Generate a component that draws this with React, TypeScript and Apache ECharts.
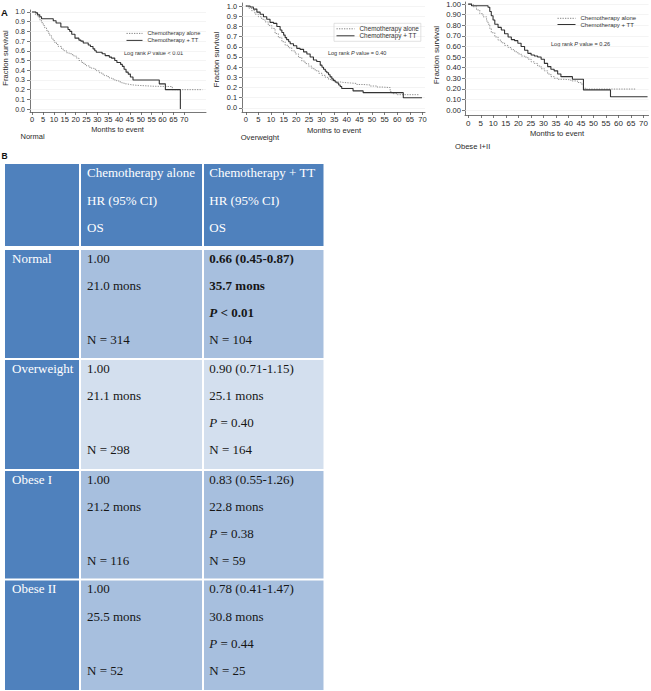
import React, { useEffect, useRef } from 'react';
import * as echarts from 'echarts';

// ---------------- data ----------------
const seriesNames = ['Chemotherapy alone', 'Chemotherapy + TT'];
const panelNames = ['Normal', 'Overweight', 'Obese I+II'];
const logRankP = ['< 0.01', '= 0.40', '= 0.26'];
const monthTicks = [0, 5, 10, 15, 20, 25, 30, 35, 40, 45, 50, 55, 60, 65, 70];
const survivalTicks = [0, 0.1, 0.2, 0.3, 0.4, 0.5, 0.6, 0.7, 0.8, 0.9, 1.0];

const normalAlone = [
  [0, 1], [1.5, 0.97], [2.8, 0.94], [3.6, 0.915], [4.3, 0.89], [5.1, 0.86], [5.8, 0.835], [6.6, 0.81],
  [7.4, 0.78], [8.1, 0.755], [8.9, 0.73], [9.6, 0.705], [10.4, 0.685], [11.2, 0.665], [12, 0.645],
  [13.5, 0.617], [14.7, 0.6], [15.8, 0.58], [17, 0.57], [18.1, 0.56], [19.2, 0.545], [20.4, 0.525],
  [21.5, 0.5], [22.7, 0.48], [23.8, 0.46], [25, 0.445], [26.2, 0.43], [27.3, 0.42], [28.5, 0.41],
  [29.6, 0.395], [30.8, 0.375], [32, 0.36], [33.2, 0.345], [34.3, 0.335], [35.5, 0.32], [36.6, 0.31],
  [37.8, 0.3], [38.9, 0.29], [40, 0.28], [41.2, 0.27], [42.3, 0.26], [43.5, 0.255], [44.6, 0.25],
  [45.8, 0.245], [48, 0.24], [52, 0.235], [56, 0.232], [64.5, 0.2], [78.3, 0.2],
];
const normalTT = [
  [0, 1], [1.7, 0.99], [2.5, 0.97], [3.5, 0.95], [4.3, 0.93], [9.7, 0.91], [11, 0.886], [13.2, 0.845],
  [16.5, 0.82], [17.3, 0.8], [18.2, 0.77], [19.7, 0.73], [21.5, 0.71], [22.4, 0.7], [23.5, 0.68],
  [25.8, 0.66], [26.8, 0.645], [28, 0.62], [28.8, 0.6], [29.5, 0.585], [32.2, 0.57], [33.6, 0.55],
  [35.5, 0.535], [36.5, 0.525], [38, 0.5], [39, 0.48], [40.7, 0.46], [41.5, 0.44], [42.3, 0.41],
  [43.2, 0.38], [44.2, 0.36], [45.2, 0.33], [46.4, 0.3], [58.5, 0.26], [61.3, 0.2], [68.2, 0],
];
const overweightAlone = [
  [0, 1], [1, 0.98], [2.3, 0.955], [3.6, 0.92], [5, 0.895], [6.3, 0.87], [7.6, 0.845], [8.9, 0.81],
  [10.3, 0.78], [11.6, 0.73], [12.9, 0.69], [14.3, 0.65], [15.6, 0.615], [16.9, 0.59], [18.2, 0.56],
  [19.6, 0.53], [20.9, 0.495], [22.2, 0.46], [23.5, 0.435], [24.9, 0.41], [26.2, 0.385], [27.5, 0.365],
  [28.9, 0.34], [30.2, 0.32], [31.5, 0.3], [32.8, 0.28], [34.2, 0.265], [35.5, 0.255], [37.4, 0.25],
  [38.7, 0.245], [41.4, 0.24], [44, 0.23], [46.6, 0.225], [49.3, 0.215], [52, 0.205], [54, 0.2],
  [57.2, 0.16], [58, 0.14], [60, 0.13], [68.4, 0.13],
];
const overweightTT = [
  [0, 1], [1.7, 0.99], [3, 0.97], [4.4, 0.94], [5.7, 0.92], [7, 0.895], [8.3, 0.87], [9.6, 0.84],
  [11, 0.83], [12.3, 0.8], [13.6, 0.765], [14.3, 0.74], [15, 0.715], [15.6, 0.69], [16.2, 0.67],
  [17, 0.65], [17.6, 0.63], [18.9, 0.61], [20.2, 0.585], [21.5, 0.575], [22.9, 0.55], [24.2, 0.53],
  [25.5, 0.5], [26.8, 0.47], [28.1, 0.455], [29.5, 0.42], [30.2, 0.4], [30.8, 0.38], [31.5, 0.36],
  [32.1, 0.345], [32.8, 0.325], [33.4, 0.305], [34.1, 0.285], [34.7, 0.27], [35.4, 0.255], [36.1, 0.245],
  [36.8, 0.225], [37.4, 0.21], [38, 0.19], [42.5, 0.167], [46.5, 0.15], [62.4, 0.1], [69.8, 0.1],
];
const obeseAlone = [
  [0, 1], [2, 0.975], [3.3, 0.945], [4.6, 0.91], [5.9, 0.88], [7.3, 0.84], [7.9, 0.81], [8.6, 0.77],
  [9.2, 0.73], [10.6, 0.69], [11.9, 0.66], [13.2, 0.635], [14.5, 0.61], [15.9, 0.59], [17.2, 0.57],
  [18.5, 0.55], [19.8, 0.53], [21.1, 0.51], [22.5, 0.5], [23.8, 0.48], [25.1, 0.455], [26.4, 0.44],
  [27.7, 0.415], [29.1, 0.39], [30.4, 0.37], [31.7, 0.34], [33, 0.315], [34.3, 0.3], [35.7, 0.29],
  [38.3, 0.285], [41, 0.275], [43.6, 0.26], [45, 0.245], [46, 0.205], [47, 0.198], [66.7, 0.198],
];
const obeseTT = [
  [0, 1], [1.3, 0.985], [7.9, 0.97], [8.6, 0.93], [9.2, 0.89], [9.9, 0.85], [10.6, 0.81], [11.9, 0.78],
  [13.2, 0.755], [14.5, 0.72], [15.9, 0.69], [17.2, 0.665], [18.5, 0.655], [19.8, 0.63], [21.1, 0.6],
  [22.5, 0.565], [23.8, 0.535], [25.1, 0.52], [26.4, 0.51], [27.7, 0.5], [29.1, 0.48], [30.4, 0.44],
  [31.7, 0.41], [33, 0.385], [34.3, 0.37], [35.7, 0.34], [37, 0.315], [41.6, 0.29], [46, 0.19],
  [56.8, 0.126], [71.6, 0.126],
];

const headerAlone = ['Chemotherapy alone', 'HR (95% CI)', 'OS'];
const headerTT = ['Chemotherapy + TT', 'HR (95% CI)', 'OS'];
const bmiGroups = ['Normal', 'Overweight', 'Obese I', 'Obese II'];
const aloneHR = ['1.00', '1.00', '1.00', '1.00'];
const aloneOS = ['21.0 mons', '21.1 mons', '21.2 mons', '25.5 mons'];
const aloneN = [314, 298, 116, 52];
const ttHR = ['0.66 (0.45-0.87)', '0.90 (0.71-1.15)', '0.83 (0.55-1.26)', '0.78 (0.41-1.47)'];
const ttOS = ['35.7 mons', '25.1 mons', '22.8 mons', '30.8 mons'];
const ttP = ['< 0.01', '= 0.40', '= 0.38', '= 0.44'];
const ttN = [104, 164, 59, 25];
const ttSignificant = [true, false, false, false];

// ---------------- layout / style ----------------
const SANS = '"Liberation Sans", Arial, Helvetica, sans-serif';
const SERIF = '"Liberation Serif", "Times New Roman", Times, serif';
const AXIS_COLOR = '#555';
const TEXT_COLOR = '#2a2a2a';
const ALONE_COLOR = '#858585';
const TT_COLOR = '#333333';

const PANEL_LAYOUT = [
  {
    left: 30, top: 10, width: 176, height: 102, xMin: -1, xMax: 80, yMin: -0.03, yMax: 1.02, yDec: 1,
    xFont: 7.5, yFont: 7, xMargin: 3, yMargin: 5,
    yName: { x: 5, y: 58, size: 7.6 }, xName: { x: 117.5, y: 129.5, size: 7.4 }, title: { x: 20.5, y: 136, size: 7.5 },
    legend: { left: 126, top: 30.4, w: 16, gap: 1, pad: [0, 0, 0, 0], font: 5.7, border: 0 },
    logRank: { x: 124, y: 53, size: 5.6 },
  },
  {
    left: 242, top: 3, width: 183, height: 109, xMin: -1.5, xMax: 71, yMin: -0.04, yMax: 1.03, yDec: 1,
    xFont: 7.6, yFont: 7.3, xMargin: 3, yMargin: 5,
    yName: { x: 216.7, y: 59.5, size: 7.6 }, xName: { x: 334, y: 130, size: 7.6 }, title: { x: 240.7, y: 137, size: 7.6 },
    legend: { left: 334, top: 23.3, w: 18, gap: 1, pad: [2.5, 2, 2.5, 2], font: 6.4, border: 0.6 },
    logRank: { x: 328, y: 53, size: 5.5 },
  },
  {
    left: 465, top: 2, width: 185, height: 113, xMin: -1.3, xMax: 72, yMin: -0.047, yMax: 1.02, yDec: 2,
    xFont: 8, yFont: 7.6, xMargin: 4, yMargin: 4,
    yName: { x: 436.7, y: 55, size: 8 }, xName: { x: 557, y: 133, size: 7.6 }, title: { x: 455, y: 146, size: 7.6 },
    legend: { left: 557, top: 15.3, w: 18, gap: 0.2, pad: [0, 0, 0, 0], font: 6, border: 0 },
    logRank: { x: 551, y: 44, size: 5.6 },
  },
];

const TABLE_COLS = [{ x: 5, w: 74 }, { x: 81, w: 121 }, { x: 204, w: 119.5 }];
const TABLE_HEADER = { y: 164, h: 82 };
const TABLE_ROWS = [{ y: 250, h: 108 }, { y: 360, h: 109 }, { y: 471, h: 107.5 }, { y: 580.5, h: 109.5 }];
const HEADER_LINE_OFFSETS = [8, 36, 63];
const BODY_LINE_OFFSETS = [8, 35.5, 62.5, 89.5];
const TEXT_INSET = [7, 6, 5.3];
const DARK_BLUE = '#4F81BD';
const ROW_FILLS = ['#A7BFDE', '#D3DFEE', '#A7BFDE', '#A7BFDE'];
const TABLE_FONT = 13;

function tableText(x: number, y: number, text: string, fill: string, weight = 'normal', rich?: any) {
  return {
    type: 'text', x, y, silent: true,
    style: {
      text, fill, fontFamily: SERIF, fontSize: TABLE_FONT, fontWeight: weight,
      align: 'left', verticalAlign: 'middle', rich,
    },
  };
}

function buildOption() {
  const curves = [[normalAlone, normalTT], [overweightAlone, overweightTT], [obeseAlone, obeseTT]];

  const grid = PANEL_LAYOUT.map((p) => ({ left: p.left, top: p.top, width: p.width, height: p.height }));

  const xAxis = PANEL_LAYOUT.map((p, i) => ({
    type: 'value', gridIndex: i, min: p.xMin, max: p.xMax,
    axisLine: { show: true, onZero: false, lineStyle: { color: AXIS_COLOR, width: 0.8 } },
    axisTick: { show: true, customValues: monthTicks, length: 3, lineStyle: { color: AXIS_COLOR, width: 0.8 } },
    axisLabel: { customValues: monthTicks, fontSize: p.xFont, color: TEXT_COLOR, margin: p.xMargin, fontFamily: SANS },
    splitLine: { show: false },
  }));

  const yAxis = PANEL_LAYOUT.map((p, i) => ({
    type: 'value', gridIndex: i, min: p.yMin, max: p.yMax,
    axisLine: { show: true, onZero: false, lineStyle: { color: AXIS_COLOR, width: 0.8 } },
    axisTick: { show: true, customValues: survivalTicks, length: 3, lineStyle: { color: AXIS_COLOR, width: 0.8 } },
    axisLabel: {
      customValues: survivalTicks, fontSize: p.yFont, color: TEXT_COLOR, margin: p.yMargin, fontFamily: SANS,
      formatter: (v: number) => v.toFixed(p.yDec),
    },
    splitLine: { show: false },
  }));

  const series: any[] = [];
  curves.forEach((pair, i) => {
    series.push({
      type: 'line', name: seriesNames[0], xAxisIndex: i, yAxisIndex: i, data: pair[0],
      step: 'end', symbol: 'none', showSymbol: false, silent: true, z: 2,
      itemStyle: { color: ALONE_COLOR },
      lineStyle: { color: ALONE_COLOR, width: 0.9, type: [1.3, 1.2] },
      markLine: {
        silent: true, symbol: 'none', z: 1, label: { show: false },
        lineStyle: { color: '#ececec', width: 0.6, type: 'solid' },
        emphasis: { disabled: true },
        data: survivalTicks.map((v) => ({ yAxis: v })),
      },
    });
    series.push({
      type: 'line', name: seriesNames[1], xAxisIndex: i, yAxisIndex: i, data: pair[1],
      step: 'end', symbol: 'none', showSymbol: false, silent: true, z: 3,
      itemStyle: { color: TT_COLOR },
      lineStyle: { color: TT_COLOR, width: 1.1, type: 'solid' },
    });
  });

  const legend = PANEL_LAYOUT.map((p) => ({
    orient: 'vertical', left: p.legend.left, top: p.legend.top,
    itemWidth: p.legend.w, itemHeight: 5, itemGap: p.legend.gap, padding: p.legend.pad,
    borderColor: '#cfcfcf', borderWidth: p.legend.border, selectedMode: false,
    itemStyle: { opacity: 0, borderWidth: 0 },
    lineStyle: { width: 1 },
    textStyle: { fontSize: p.legend.font, color: '#333', fontFamily: SANS },
    data: seriesNames,
  }));

  const graphic: any[] = [];
  graphic.push({
    type: 'text', x: 1, y: 12.5, silent: true,
    style: { text: 'A', fill: '#111', fontFamily: SANS, fontSize: 9.5, fontWeight: 'bold', align: 'left', verticalAlign: 'middle' },
  });
  graphic.push({
    type: 'text', x: 1.5, y: 156, silent: true,
    style: { text: 'B', fill: '#111', fontFamily: SANS, fontSize: 8.5, fontWeight: 'bold', align: 'left', verticalAlign: 'middle' },
  });

  PANEL_LAYOUT.forEach((p, i) => {
    graphic.push({
      type: 'text', x: p.yName.x, y: p.yName.y, rotation: Math.PI / 2, silent: true,
      style: { text: 'Fraction survival', fill: TEXT_COLOR, fontFamily: SANS, fontSize: p.yName.size, align: 'center', verticalAlign: 'middle' },
    });
    graphic.push({
      type: 'text', x: p.xName.x, y: p.xName.y, silent: true,
      style: { text: 'Months to event', fill: TEXT_COLOR, fontFamily: SANS, fontSize: p.xName.size, align: 'center', verticalAlign: 'middle' },
    });
    graphic.push({
      type: 'text', x: p.title.x, y: p.title.y, silent: true,
      style: { text: panelNames[i], fill: TEXT_COLOR, fontFamily: SANS, fontSize: p.title.size, align: 'left', verticalAlign: 'middle' },
    });
    const s = p.logRank.size;
    graphic.push({
      type: 'text', x: p.logRank.x, y: p.logRank.y, silent: true,
      style: {
        text: '{n|Log rank }{i|P}{n| value ' + logRankP[i] + '}',
        align: 'left', verticalAlign: 'middle', fill: '#333', fontFamily: SANS, fontSize: s,
        rich: {
          n: { fontFamily: SANS, fontSize: s, fill: '#333' },
          i: { fontFamily: SANS, fontSize: s, fill: '#333', fontStyle: 'italic' },
        },
      },
    });
  });

  // ---- table ----
  TABLE_COLS.forEach((c) => {
    graphic.push({ type: 'rect', silent: true, shape: { x: c.x, y: TABLE_HEADER.y, width: c.w, height: TABLE_HEADER.h }, style: { fill: DARK_BLUE } });
  });
  TABLE_ROWS.forEach((r, ri) => {
    TABLE_COLS.forEach((c, ci) => {
      graphic.push({
        type: 'rect', silent: true,
        shape: { x: c.x, y: r.y, width: c.w, height: r.h },
        style: { fill: ci === 0 ? DARK_BLUE : ROW_FILLS[ri] },
      });
    });
  });

  headerAlone.forEach((t, li) => {
    graphic.push(tableText(TABLE_COLS[1].x + TEXT_INSET[1], TABLE_HEADER.y + HEADER_LINE_OFFSETS[li], t, '#ffffff'));
  });
  headerTT.forEach((t, li) => {
    graphic.push(tableText(TABLE_COLS[2].x + TEXT_INSET[2], TABLE_HEADER.y + HEADER_LINE_OFFSETS[li], t, '#ffffff'));
  });

  const cellColor = '#161616';
  TABLE_ROWS.forEach((r, ri) => {
    const yAt = (li: number) => r.y + BODY_LINE_OFFSETS[li];
    graphic.push(tableText(TABLE_COLS[0].x + TEXT_INSET[0], yAt(0), bmiGroups[ri], '#ffffff'));
    const x2 = TABLE_COLS[1].x + TEXT_INSET[1];
    graphic.push(tableText(x2, yAt(0), aloneHR[ri], cellColor));
    graphic.push(tableText(x2, yAt(1), aloneOS[ri], cellColor));
    graphic.push(tableText(x2, yAt(3), 'N = ' + aloneN[ri], cellColor));
    const x3 = TABLE_COLS[2].x + TEXT_INSET[2];
    const w = ttSignificant[ri] ? 'bold' : 'normal';
    graphic.push(tableText(x3, yAt(0), ttHR[ri], cellColor, w));
    graphic.push(tableText(x3, yAt(1), ttOS[ri], cellColor, w));
    graphic.push(tableText(x3, yAt(2), '{i|P}{n| ' + ttP[ri] + '}', cellColor, w, {
      i: { fontFamily: SERIF, fontSize: TABLE_FONT, fontStyle: 'italic', fontWeight: w, fill: cellColor },
      n: { fontFamily: SERIF, fontSize: TABLE_FONT, fontWeight: w, fill: cellColor },
    }));
    graphic.push(tableText(x3, yAt(3), 'N = ' + ttN[ri], cellColor));
  });

  return {
    animation: false,
    backgroundColor: '#ffffff',
    grid, xAxis, yAxis, series, legend, graphic,
    tooltip: { show: false },
  };
}

export default function App() {
  const ref = useRef<HTMLDivElement>(null);
  useEffect(() => {
    if (!ref.current) return;
    const chart = echarts.init(ref.current, null, { renderer: 'svg' });
    chart.setOption(buildOption() as any);
    return () => chart.dispose();
  }, []);
  return (
    <div
      ref={ref}
      style={{ position: 'absolute', left: 0, top: 0, width: 651, height: 691, background: '#fff' }}
    />
  );
}
